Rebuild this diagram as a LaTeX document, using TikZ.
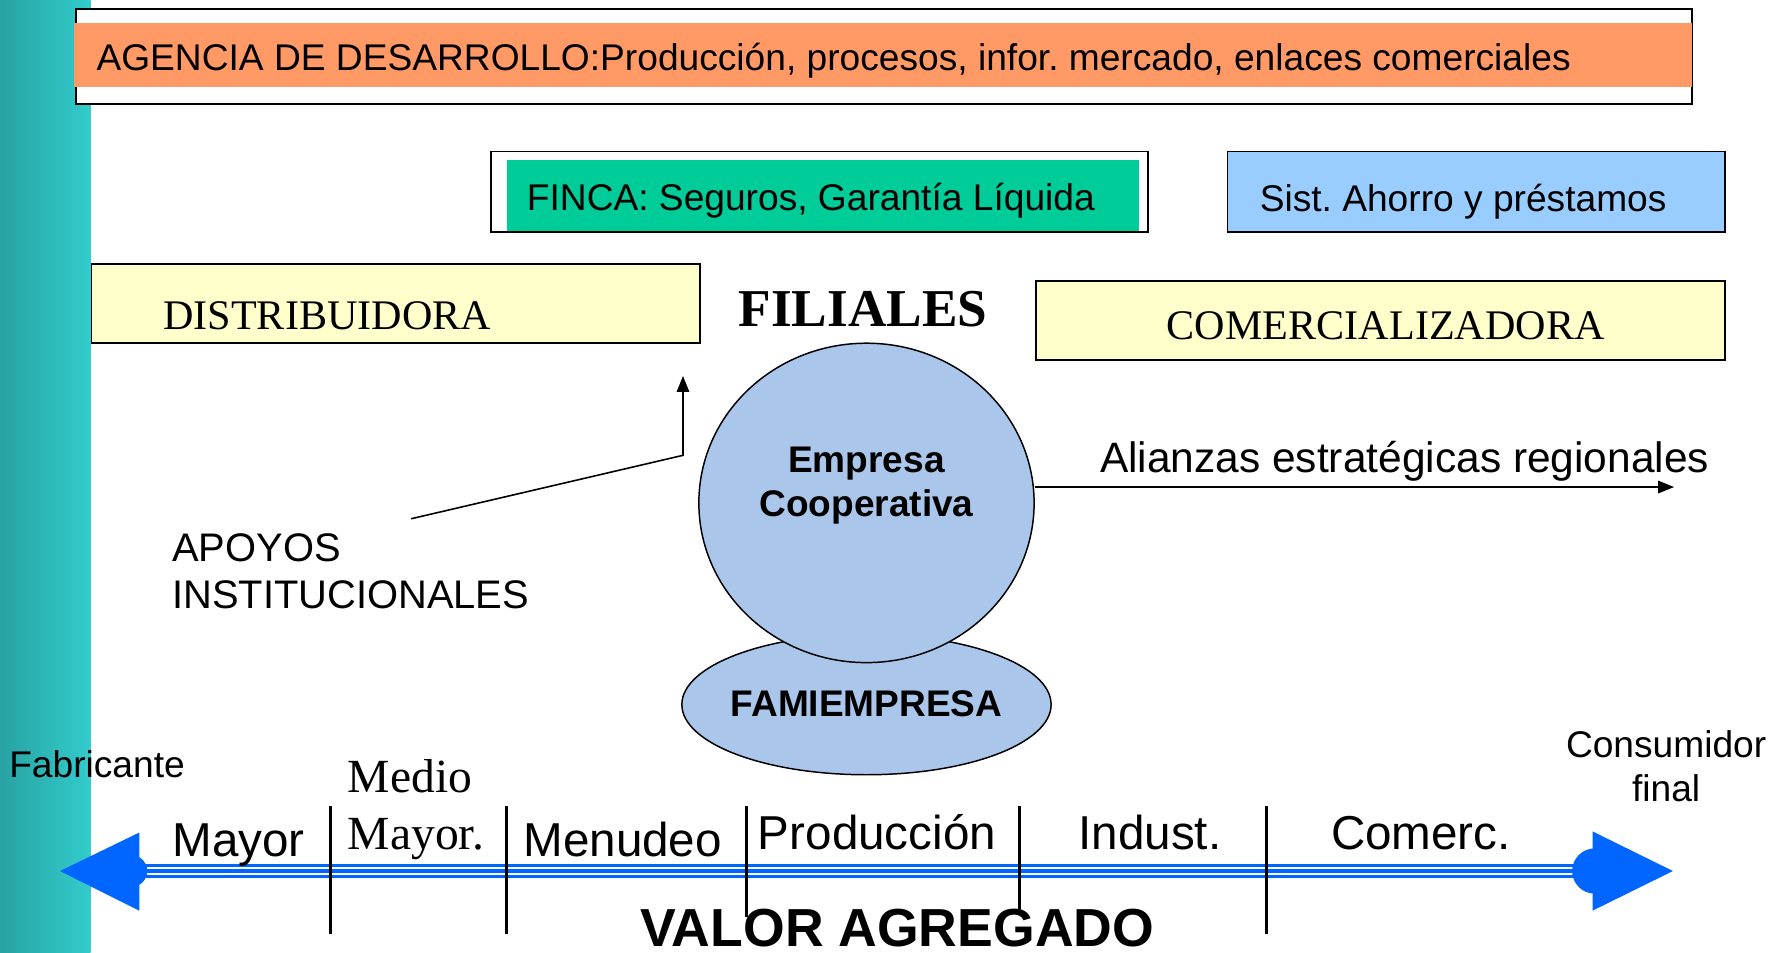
\documentclass[tikz,border=0pt]{standalone}
\usepackage{fontspec}
\setmainfont{Liberation Serif}
\setsansfont{Liberation Sans}
\usetikzlibrary{shapes.geometric,arrows.meta}
\definecolor{teal1}{HTML}{33CCCC}
\definecolor{teal0}{HTML}{28A2A2}
\definecolor{orangefill}{HTML}{FF9966}
\definecolor{greenfill}{HTML}{00CC99}
\definecolor{bluefill}{HTML}{99CCFF}
\definecolor{yellowfill}{HTML}{FFFFCC}
\definecolor{coopfill}{HTML}{ABC6EB}
\definecolor{arrowblue}{HTML}{0066FF}
\frenchspacing
\begin{document}
\begin{tikzpicture}[x=1pt,y=-1pt,
  boxframe/.style={draw=black,line width=1.6pt,inner sep=0pt,anchor=north west},
  fillonly/.style={inner sep=0pt,anchor=north west,draw=none},
  oval/.style={ellipse,draw=black,line width=1.3pt,fill=coopfill,inner sep=0pt},
  txt/.style={inner sep=0pt,anchor=base west},
  ctxt/.style={inner sep=0pt,anchor=base},
  sansA/.style={font=\sffamily\fontsize{32.8pt}{39pt}\selectfont},
  sansB/.style={font=\sffamily\bfseries\fontsize{32.7pt}{39pt}\selectfont},
  sansC/.style={font=\sffamily\fontsize{42pt}{50pt}\selectfont},
  sansD/.style={font=\sffamily\fontsize{35.2pt}{42pt}\selectfont},
  sansE/.style={font=\sffamily\fontsize{37.5pt}{44pt}\selectfont},
  sansF/.style={font=\sffamily\bfseries\fontsize{47.3pt}{56pt}\selectfont},
  serA/.style={font=\rmfamily\fontsize{37.2pt}{44pt}\selectfont},
  serB/.style={font=\rmfamily\bfseries\fontsize{47pt}{56pt}\selectfont},
  serC/.style={font=\rmfamily\fontsize{42pt}{50pt}\selectfont},
  conn/.style={draw=black,line width=1.4pt,-{Triangle[length=14pt,width=11pt]}},
  tick/.style={draw=black,line width=2.6pt}
]
\useasboundingbox (0,0) rectangle (1568,841);
\fill[white] (0,0) rectangle (1568,841);
% left stripe
\shade[left color=teal0,right color=teal1] (0,0) rectangle (80,841);

% AGENCIA
\node[boxframe,fill=white,minimum width=1427pt,minimum height=84pt] (agframe) at (66,7) {};
\node[fillonly,fill=orangefill,minimum width=1428pt,minimum height=57pt] (agfill) at (65.5,20) {};
\node[txt,sansA] (agtext) at (85,62) {AGENCIA DE DESARROLLO:Producción, procesos, infor. mercado, enlaces comerciales};

% FINCA
\node[boxframe,fill=white,minimum width=580pt,minimum height=71pt] (fincaframe) at (433,133) {};
\node[fillonly,fill=greenfill,minimum width=558pt,minimum height=63pt] (fincafill) at (447,141) {};
\node[txt,sansA] (fincatext) at (465,186) {FINCA: Seguros, Garantía Líquida};

% Sist. Ahorro
\node[boxframe,fill=bluefill,minimum width=439pt,minimum height=71pt] (sist) at (1083,133) {};
\node[txt,sansA] (sisttext) at (1112,187) {Sist. Ahorro y préstamos};

% DISTRIBUIDORA / COMERCIALIZADORA / FILIALES
\node[boxframe,fill=yellowfill,minimum width=537pt,minimum height=70pt] (distrib) at (80,232) {};
\node[txt,serA] (distribtext) at (144,291) {DISTRIBUIDORA};
\node[boxframe,fill=yellowfill,minimum width=608pt,minimum height=70pt] (comerc) at (914,247) {};
\node[txt,serA] (comerctext) at (1030,300) {COMERCIALIZADORA};
\node[txt,serB] (filiales) at (652,288) {FILIALES};

% Ovals
\node[oval,minimum width=326pt,minimum height=124pt] (fami) at (765,622) {};
\node[oval,minimum width=296pt,minimum height=282pt] (coop) at (765,444) {};
\node[ctxt,sansB] (famitext) at (765,633) {FAMIEMPRESA};
\node[ctxt,sansB] (coop1) at (765,417) {Empresa};
\node[ctxt,sansB] (coop2) at (765,456) {Cooperativa};

% Alianzas
\coordinate (alend) at (1478,430);
\draw[conn] (coop.east |- alend) -- (alend);
\node[txt,sansE] (alianzas) at (971,417) {Alianzas estratégicas regionales};

% Apoyos
\node[txt,sansD] (apoyos1) at (152,496) {APOYOS};
\node[txt,sansD] (apoyos2) at (152,537) {INSTITUCIONALES};
\coordinate (apstart) at (363,458);
\coordinate (apbend) at (603,402);
\coordinate (aptip) at (603,332);
\draw[conn] (apstart) -- (apbend) -- (aptip);

% Ends labels
\node[txt,sansA] (fabricante) at (8,686) {Fabricante};
\node[ctxt,sansA] (consum1) at (1471,669) {Consumidor};
\node[ctxt,sansA] (consum2) at (1471,708) {final};

% value axis
\coordinate (axL) at (116,769);
\coordinate (axR) at (1406,769);
\draw[arrowblue,line width=13pt] (axL) -- (axR);
\draw[white,line width=1.8pt,transform canvas={yshift=3pt}] (axL) -- (axR);
\draw[white,line width=1.8pt,transform canvas={yshift=-3pt}] (axL) -- (axR);
\fill[arrowblue] (53,769) -- (123,735) -- (123,804) -- cycle;
\fill[arrowblue] (axL) circle (14);
\fill[arrowblue] (1406,734) -- (1477,769) -- (1406,804) -- cycle;
\fill[arrowblue] (axR) ++(2,0) circle (20);

% ticks
\draw[tick] (292,712) -- (292,825);
\draw[tick] (447,712) -- (447,825);
\draw[tick] (659,712) -- (659,810);
\draw[tick] (900,712) -- (900,803);
\draw[tick] (1118,712) -- (1118,825);

% segment labels
\node[txt,sansC] (mayor) at (152,756) {Mayor};
\node[txt,serC] (medio1) at (307,700) {Medio};
\node[txt,serC] (medio2) at (307,750) {Mayor.};
\node[txt,sansC] (menudeo) at (462,756) {Menudeo};
\node[txt,sansC] (produccion) at (669,750) {Producción};
\node[txt,sansC] (indust) at (952,750) {Indust.};
\node[txt,sansC] (comercl) at (1175,750) {Comerc.};
\node[txt,sansF] (valor) at (565,836) {VALOR AGREGADO};
\end{tikzpicture}
\end{document}
